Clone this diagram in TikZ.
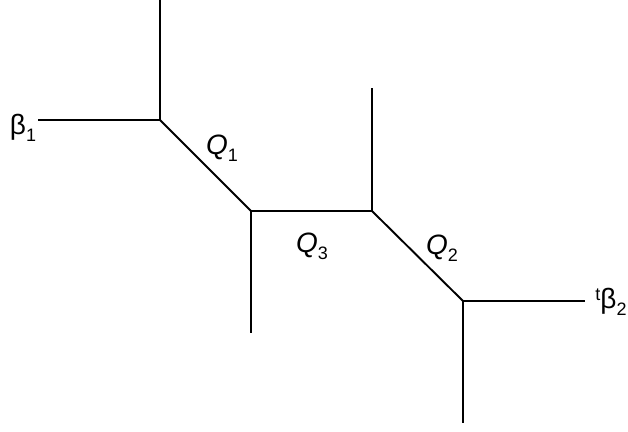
\documentclass[tikz,border=0pt]{standalone}
\usepackage{fontspec}
\setmainfont{Liberation Sans}
\newcommand{\lowsub}[1]{\raisebox{-0.45ex}{\fontsize{18}{20}\selectfont #1}}
\newcommand{\highsup}[1]{\raisebox{0.6ex}{\fontsize{18}{20}\selectfont #1}}
\begin{document}
\begin{tikzpicture}[x=1pt,y=-1pt,
  edge/.style={line width=1.9pt, line cap=butt},
  lbl/.style={inner sep=0pt, font=\fontsize{28}{32}\selectfont}]
\useasboundingbox (0,0) rectangle (628,431);
\coordinate (A) at (160,120);
\coordinate (B) at (251,211);
\coordinate (C) at (372,211);
\coordinate (D) at (463,301);
\coordinate (Atop) at (160,0);
\coordinate (Aleft) at (38,120);
\coordinate (Bdown) at (251,333);
\coordinate (Ctop) at (372,88);
\coordinate (Dright) at (585,301);
\coordinate (Ddown) at (463,423);
\draw[edge] (Atop) -- (A);
\draw[edge] (Aleft) -- (A);
\draw[edge] (A) -- (B);
\draw[edge] (B) -- (Bdown);
\draw[edge] (B) -- (C);
\draw[edge] (C) -- (Ctop);
\draw[edge] (C) -- (D);
\draw[edge] (D) -- (Dright);
\draw[edge] (D) -- (Ddown);
\node[lbl] (b1) at (23,128) {β\lowsub{1}};
\node[lbl] (q1) at (222,148) {\textit{Q}\lowsub{1}};
\node[lbl] (q3) at (312,246) {\textit{Q}\lowsub{3}};
\node[lbl] (q2) at (442,248) {\textit{Q}\lowsub{2}};
\node[lbl] (b2) at (611,302) {\highsup{t}β\lowsub{2}};
\end{tikzpicture}
\end{document}
